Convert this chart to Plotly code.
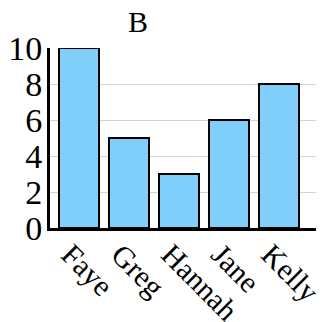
import plotly.graph_objects as go

# ── Data ──────────────────────────────────────────────────────────────────────

names = ["Faye", "Greg", "Hannah", "Jane", "Kelly"]   # categories on the x axis
values = [10, 5, 3, 6, 8]                              # bar heights
y_ticks = [0, 2, 4, 6, 8, 10]                          # y tick values

# ── Figure ────────────────────────────────────────────────────────────────────
# the page body adds an 8px offset, so the figure is sized/placed to compensate

fig = go.Figure(
    go.Bar(
        x=names,
        y=values,
        marker=dict(color="#80CEFA", line=dict(color="black", width=2)),
        width=0.8,
    )
)

serif = "Liberation Serif, Times New Roman, serif"

fig.update_layout(
    width=316, height=314,
    margin=dict(l=42, r=0, t=40, b=94),
    plot_bgcolor="white", paper_bgcolor="white",
    font=dict(family=serif, size=32, color="black"),
    showlegend=False,
    title=dict(text="B", x=130 / 316, xanchor="center", y=1 - 3 / 314, yanchor="top",
               font=dict(family=serif, size=30, color="black")),
)

fig.update_xaxes(
    range=[-0.58, 4.9],
    tickangle=45,
    showline=True, linecolor="black", linewidth=3,
    showgrid=False,
    tickfont=dict(size=30),
    ticklabelstandoff=-6,
    ticklabelshift=-9,
    automargin=False,
)

fig.update_yaxes(
    range=[0, 10],
    tickvals=y_ticks,
    showline=True, linecolor="black", linewidth=3,
    showgrid=True, gridcolor="#d3d3d3", gridwidth=1,
    zeroline=False,
    ticks="",
    tickfont=dict(size=34),
    ticklabelstandoff=-2,
    automargin=False,
)

fig.write_html("out.html")
